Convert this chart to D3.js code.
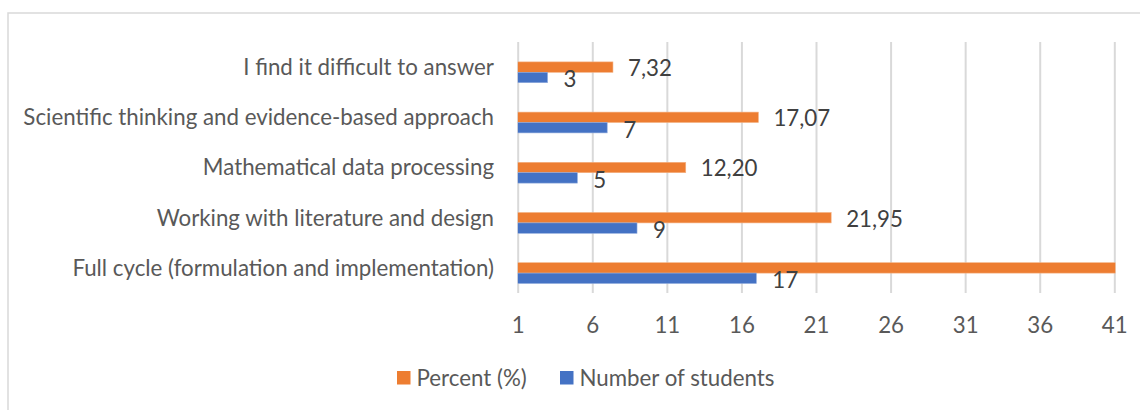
<!DOCTYPE html>
<html>
<head>
<meta charset="utf-8">
<script src="https://cdn.jsdelivr.net/npm/d3@7"></script>
<style>
  body { margin: 0; background: #fff; }
  svg { display: block; font-family: Lato, "Open Sans", sans-serif; }
</style>
</head>
<body>
<div class="vis-bars"></div>
<script>
// categories top -> bottom
const categories = [
    "I find it difficult to answer",
    "Scientific thinking and evidence-based approach",
    "Mathematical data processing",
    "Working with literature and design",
    "Full cycle (formulation and implementation)"
];
const percent = [7.32, 17.07, 12.20, 21.95, 41.46];
const students = [3, 7, 5, 9, 17];
const tickValues = [1, 6, 11, 16, 21, 26, 31, 36, 41];
const seriesNames = ["Percent (%)", "Number of students"];

const W = 1140, H = 410;
const colors = { pct: "#ED7D31", num: "#4472C4" };
const plotTop = 42, plotBottom = 293;
const fontSize = "22.3px";

let svg = d3.select(".vis-bars")
    .append("svg")
    .attr("width", W)
    .attr("height", H);

svg.append("rect").attr("width", W).attr("height", H).attr("fill", "#fff");

// chart border (runs off the right and bottom)
svg.append("rect")
    .attr("x", 8).attr("y", 13)
    .attr("width", W + 20).attr("height", H + 20)
    .attr("fill", "none")
    .attr("stroke", "#D9D9D9")
    .attr("stroke-width", 1.5);

let x = d3.scaleLinear()
    .domain([1, 41])
    .range([517.7, 1114.3]);
let y = d3.scaleBand()
    .domain(categories)
    .range([plotTop, plotBottom]);

// gridlines + tick labels
let xAxis = svg.append("g")
    .attr("transform", "translate(0," + plotBottom + ")")
    .call(d3.axisBottom(x).tickValues(tickValues).tickSize(-(plotBottom - plotTop)).tickPadding(24).tickFormat(d3.format("d")));
xAxis.select(".domain").remove();
xAxis.selectAll(".tick line").attr("stroke", "#D9D9D9").attr("stroke-width", 2);
xAxis.selectAll(".tick text").attr("fill", "#595959").style("font-size", fontSize).style("font-family", "Lato, sans-serif");

// category labels
svg.append("g")
    .selectAll("text")
    .data(categories)
    .enter()
    .append("text")
    .attr("x", 494)
    .attr("y", d => y(d) + y.bandwidth() / 2)
    .attr("dy", "0.35em")
    .attr("text-anchor", "end")
    .attr("fill", "#595959")
    .style("font-size", fontSize)
    .text(d => d);

const barH = 10.4;
const xMax = x.domain()[1];
const fmt = v => d3.format(".2f")(v).replace(".", ",");

const rows = categories.map((c, i) => ({ c: c, pct: percent[i], num: students[i] }));

svg.append("clipPath").attr("id", "plot")
    .append("rect").attr("x", x(1)).attr("y", plotTop).attr("width", x(xMax) - x(1) + 1.5).attr("height", plotBottom - plotTop + 20);

let bars = svg.append("g").attr("clip-path", "url(#plot)");

// percent bars (upper of the pair)
bars.selectAll(".pct")
    .data(rows)
    .enter()
    .append("rect")
    .attr("class", "pct")
    .attr("x", x(1))
    .attr("y", d => y(d.c) + y.bandwidth() / 2 - barH / 2)
    .attr("width", d => x(Math.min(d.pct, xMax)) - x(1) + 1)
    .attr("height", barH)
    .attr("fill", colors.pct)
    .attr("stroke", "#F4B183")
    .attr("stroke-width", 0.6);

// number bars (lower of the pair)
bars.selectAll(".num")
    .data(rows)
    .enter()
    .append("rect")
    .attr("class", "num")
    .attr("x", x(1))
    .attr("y", d => y(d.c) + y.bandwidth() / 2 + barH / 2)
    .attr("width", d => x(d.num) - x(1))
    .attr("height", barH)
    .attr("fill", colors.num)
    .attr("stroke", "#8FAADC")
    .attr("stroke-width", 0.6);

// data labels (hidden when the bar runs past the axis)
svg.append("g")
    .selectAll("text")
    .data(rows.filter(d => d.pct <= xMax))
    .enter()
    .append("text")
    .attr("x", d => x(d.pct) + 16)
    .attr("y", d => y(d.c) + y.bandwidth() / 2 + 1)
    .attr("dy", "0.35em")
    .attr("fill", "#404040")
    .style("font-size", fontSize)
    .text(d => fmt(d.pct));

svg.append("g")
    .selectAll("text")
    .data(rows)
    .enter()
    .append("text")
    .attr("x", d => x(d.num) + 16)
    .attr("y", d => y(d.c) + y.bandwidth() / 2 + barH + 2)
    .attr("dy", "0.35em")
    .attr("fill", "#404040")
    .style("font-size", fontSize)
    .text(d => d.num);

// legend
const legendX = [397, 560];
let legend = svg.append("g")
    .selectAll("g")
    .data(seriesNames)
    .enter()
    .append("g")
    .attr("transform", (d, i) => "translate(" + legendX[i] + ",371)");
legend.append("rect")
    .attr("width", 13.5).attr("height", 13.5)
    .attr("fill", (d, i) => i === 0 ? colors.pct : colors.num);
legend.append("text")
    .attr("x", 19.5)
    .attr("y", 7)
    .attr("dy", "0.35em")
    .attr("fill", "#595959")
    .style("font-size", fontSize)
    .text(d => d);
</script>
</body>
</html>
